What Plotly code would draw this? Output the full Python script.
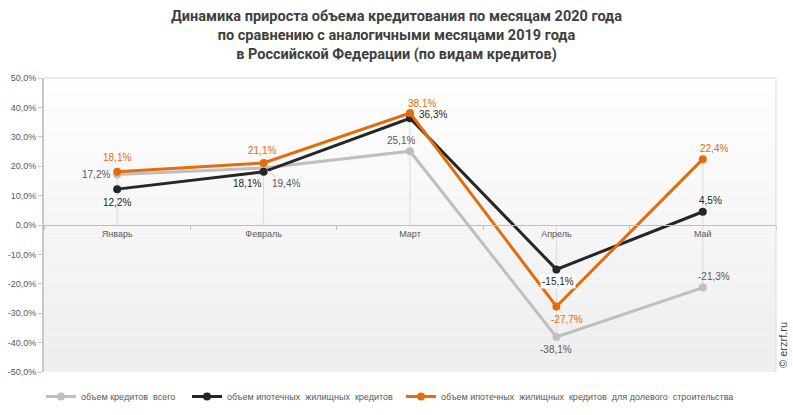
import plotly.graph_objects as go

# ---- data ----
months = ["Январь", "Февраль", "Март", "Апрель", "Май"]
total_credit = [17.2, 19.4, 25.1, -38.1, -21.3]
mortgage_credit = [12.2, 18.1, 36.3, -15.1, 4.5]
equity_mortgage_credit = [18.1, 21.1, 38.1, -27.7, 22.4]
series_names = [
    "объем кредитов  всего",
    "объем ипотечных  жилищных  кредитов",
    "объем ипотечных  жилищных  кредитов  для долевого  строительства",
]
y_tick_values = [-50, -40, -30, -20, -10, 0, 10, 20, 30, 40, 50]
y_tick_labels = ["-50,0%", "-40,0%", "-30,0%", "-20,0%", "-10,0%", "0,0%",
                 "10,0%", "20,0%", "30,0%", "40,0%", "50,0%"]
title_text = ("Динамика прироста объема кредитования по месяцам 2020 года<br>"
              "по сравнению с аналогичными месяцами 2019 года<br>"
              "в Российской Федерации (по видам кредитов)")

# ---- styles ----
colors = ["#BFBFBF", "#262626", "#E46C0A"]
label_colors = ["#595959", "#262626", "#E46C0A"]
legend_ids = ["legend", "legend2", "legend3"]
legend_x = [0.0517, 0.2358, 0.5057]
# label offsets in pixels (ax, ay) per series per month
label_offsets = [
    [(-21, 0), (22, 16), (-9, -11), (0, 12), (11, -11)],
    [(0, 13), (-17, 12), (23, -4), (2, 12), (8, -11)],
    [(0, -14), (-2, -12), (12, -9), (11, 13), (11, -11)],
]
label_bg = [
    [None] * 5,
    [None, None, None, "white", None],
    [None] * 5,
]

def fmt(v):
    return f"{v:.1f}%".replace(".", ",")

series = [total_credit, mortgage_credit, equity_mortgage_credit]

fig = go.Figure()

# drop lines from points to zero axis
dx, dy = [], []
for i, m in enumerate(months):
    vals = [s[i] for s in series]
    dx += [m, m, None]
    dy += [max(0, max(vals)), min(0, min(vals)), None]
fig.add_trace(go.Scatter(x=dx, y=dy, mode="lines", line=dict(color="#D9D9D9", width=1),
                         hoverinfo="skip", showlegend=False))

for k, s in enumerate(series):
    fig.add_trace(go.Scatter(
        x=months, y=s, name=series_names[k], mode="lines+markers",
        line=dict(color=colors[k], width=3),
        marker=dict(color=colors[k], size=8),
        legend=legend_ids[k],
    ))

annotations = []
for k, s in enumerate(series):
    for i, v in enumerate(s):
        ax, ay = label_offsets[k][i]
        leader = abs(ax) > 5 and abs(ay) > 5
        ann = dict(x=months[i], y=v, xref="x", yref="y", text=fmt(v),
                   showarrow=True, ax=ax, ay=ay, arrowhead=0, arrowwidth=1,
                   arrowcolor="#D0D0D0" if leader else "rgba(0,0,0,0)",
                   standoff=4, startstandoff=0,
                   font=dict(family="Liberation Sans, Arial", size=10, color=label_colors[k]))
        if label_bg[k][i]:
            ann["bgcolor"] = label_bg[k][i]
        annotations.append(ann)

# title as annotation
annotations.append(dict(x=0.482, y=1.144, xref="paper", yref="paper", text=title_text,
                        showarrow=False, xanchor="center", yanchor="middle", align="center",
                        font=dict(family="Roboto", size=14.5, color="#404040", weight="bold")))
# watermark
annotations.append(dict(x=1.0096, y=0.092, xref="paper", yref="paper", text="© erzrf.ru",
                        showarrow=False, textangle=-90, xanchor="center", yanchor="middle",
                        font=dict(family="Liberation Sans, Arial", size=11, color="#444444")))

# gradient background strips
shapes = []
N = 40
for j in range(N):
    t = j / N
    c = int(255 - (255 - 238) * (1 - t))
    shapes.append(dict(type="rect", xref="paper", yref="paper", x0=0, x1=1,
                       y0=t, y1=(j + 1) / N, line=dict(width=0),
                       fillcolor=f"rgb({c},{c},{c})", layer="below"))
shapes.append(dict(type="line", xref="paper", yref="paper", x0=0, x1=1, y0=1, y1=1,
                   line=dict(color="#D9D9D9", width=1)))
shapes.append(dict(type="line", xref="paper", yref="paper", x0=1, x1=1, y0=0, y1=1,
                   line=dict(color="#D9D9D9", width=1)))

legend_style = dict(orientation="h", yanchor="middle", xanchor="left", y=0.0446,
                    xref="container", yref="container",
                    bgcolor="rgba(0,0,0,0)", borderwidth=0,
                    font=dict(family="Liberation Sans, Arial", size=9, color="#595959"))

fig.update_layout(
    width=793, height=415,
    margin=dict(l=44, r=17, t=78, b=43, autoexpand=False),
    paper_bgcolor="white", plot_bgcolor="white",
    xaxis=dict(type="category", range=[-0.5, 4.5], anchor="free", position=0.5,
               showline=True, linecolor="#BFBFBF", linewidth=1,
               ticks="outside", tickson="boundaries", ticklen=4, tickcolor="#BFBFBF",
               showgrid=False, zeroline=False,
               tickfont=dict(family="Liberation Sans, Arial", size=9, color="#595959")),
    yaxis=dict(range=[-50, 50], tickvals=y_tick_values, ticktext=y_tick_labels,
               showline=True, linecolor="#C8C8C8", linewidth=2,
               ticks="outside", ticklen=4, tickcolor="#C8C8C8",
               showgrid=False, zeroline=False,
               tickfont=dict(family="Liberation Sans, Arial", size=9, color="#595959")),
    legend=dict(x=legend_x[0], **legend_style),
    legend2=dict(x=legend_x[1], **legend_style),
    legend3=dict(x=legend_x[2], **legend_style),
    annotations=annotations,
    shapes=shapes,
    hovermode=False,
)

fig.write_html("out.html", config={"displayModeBar": False},
               post_script="document.body.style.margin='0';")
